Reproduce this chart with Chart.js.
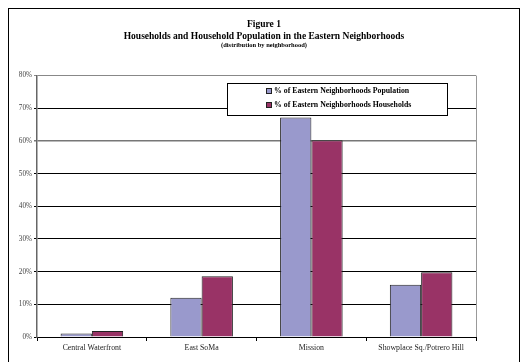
<!DOCTYPE html>
<html>
<head>
<meta charset="utf-8">
<script src="https://cdn.jsdelivr.net/npm/chart.js@4.4.1/dist/chart.umd.min.js"></script>
<style>
  html, body { margin: 0; padding: 0; background: #fff; }
  #wrap { width: 528px; height: 362px; }
</style>
</head>
<body>
<div id="wrap"><canvas id="fig1"></canvas></div>
<script>
var categories = ['Central Waterfront', 'East SoMa', 'Mission', 'Showplace Sq./Potrero Hill']
var populationShare = [1.1, 12.0, 67.2, 16.0]
var householdShare = [1.8, 18.6, 60.2, 19.8]
var yTicks = [0, 10, 20, 30, 40, 50, 60, 70, 80]

var serif = "'Liberation Serif', 'Times New Roman', serif"

// frame around the figure + right border of the plot
var framePlugin = {
  id: 'frame',
  beforeDraw: function(chart) {
    var ctx = chart.ctx
    ctx.save()
    ctx.fillStyle = '#fff'
    ctx.fillRect(0, 0, chart.width, chart.height)
    ctx.strokeStyle = '#000'
    ctx.lineWidth = 1
    ctx.strokeRect(8.5, 8.5, 511, 400)
    ctx.restore()
  },
  afterDatasetsDraw: function(chart) {
    var ctx = chart.ctx
    var a = chart.chartArea
    ctx.save()
    ctx.strokeStyle = '#999'
    ctx.lineWidth = 1
    ctx.beginPath()
    ctx.moveTo(Math.round(a.right) + 0.5, a.top)
    ctx.lineTo(Math.round(a.right) + 0.5, a.bottom)
    ctx.stroke()
    ctx.restore()
  }
}

// legend box drawn over the plot, like the original
var legendBoxPlugin = {
  id: 'legendBox',
  afterDraw: function(chart) {
    var ctx = chart.ctx
    ctx.save()
    ctx.fillStyle = '#fff'
    ctx.fillRect(227, 83, 220, 32)
    ctx.strokeStyle = '#000'
    ctx.lineWidth = 1
    ctx.strokeRect(227.5, 83.5, 220, 32)
    ctx.font = 'bold 7.8px ' + serif
    ctx.textBaseline = 'middle'
    var rows = [91, 105]
    chart.data.datasets.forEach(function(ds, i) {
      ctx.fillStyle = ds.backgroundColor
      ctx.fillRect(266, rows[i] - 3, 6, 6)
      ctx.strokeStyle = '#222'
      ctx.strokeRect(266.5, rows[i] - 2.5, 5, 5)
      ctx.fillStyle = '#000'
      ctx.fillText(ds.label, 274, rows[i])
    })
    ctx.restore()
  }
}

var ctx = document.getElementById('fig1').getContext('2d')
var fig1 = new Chart(ctx, {
  type: 'bar',
  data: {
    labels: categories,
    datasets: [{
      label: '% of Eastern Neighborhoods Population',
      data: populationShare,
      backgroundColor: '#9999cc',
      borderColor: '#222',
      borderWidth: 1,
      categoryPercentage: 0.57,
      barPercentage: 1
    }, {
      label: '% of Eastern Neighborhoods Households',
      data: householdShare,
      backgroundColor: '#993366',
      borderColor: '#222',
      borderWidth: 1,
      categoryPercentage: 0.57,
      barPercentage: 1
    }]
  },
  options: {
    responsive: true,
    maintainAspectRatio: false,
    animation: false,
    layout: {
      padding: 0
    },
    plugins: {
      legend: { display: false },
      tooltip: { enabled: false },
      title: {
        display: true,
        text: ['Figure 1', 'Households and Household Population in the Eastern Neighborhoods'],
        color: '#000',
        font: { family: serif, size: 9.5, weight: 'bold', lineHeight: 1.2 },
        padding: { top: 19, bottom: 0 }
      },
      subtitle: {
        display: true,
        text: '(distribution by neighborhood)',
        color: '#000',
        font: { family: serif, size: 6.5, weight: 'bold', lineHeight: 1.2 },
        padding: { top: 0, bottom: 26 }
      }
    },
    scales: {
      x: {
        afterFit: function(scale) { scale.height = 25 },
        grid: {
          drawOnChartArea: false,
          drawTicks: true,
          tickLength: 4,
          color: '#000'
        },
        border: { color: '#000', width: 1 },
        ticks: {
          color: '#222',
          padding: 2,
          font: { family: serif, size: 7.8 }
        }
      },
      y: {
        min: 0,
        max: 80,
        afterFit: function(scale) { scale.width = 37 },
        afterBuildTicks: function(scale) {
          scale.ticks = yTicks.map(function(v) { return { value: v } })
        },
        grid: {
          color: function(c) {
            if (!c.tick) return '#000'
            if (c.tick.value === 80) return '#888'
            if (c.tick.value === 60) return '#777'
            return '#000'
          },
          lineWidth: function(c) { return c.tick && c.tick.value === 60 ? 1.5 : 1 },
          tickLength: 3
        },
        border: { color: '#666', width: 1.5 },
        ticks: {
          color: '#444',
          padding: 2,
          font: { family: serif, size: 7.2 },
          callback: function(v) { return v + '%' }
        }
      },
      // empty right-hand space so the title stays centred on the page
      yPad: {
        position: 'right',
        min: 0,
        max: 80,
        afterFit: function(scale) { scale.width = 52 },
        grid: { drawOnChartArea: false, drawTicks: false },
        border: { display: false },
        ticks: { display: false }
      }
    }
  },
  plugins: [framePlugin, legendBoxPlugin]
})
</script>
</body>
</html>
